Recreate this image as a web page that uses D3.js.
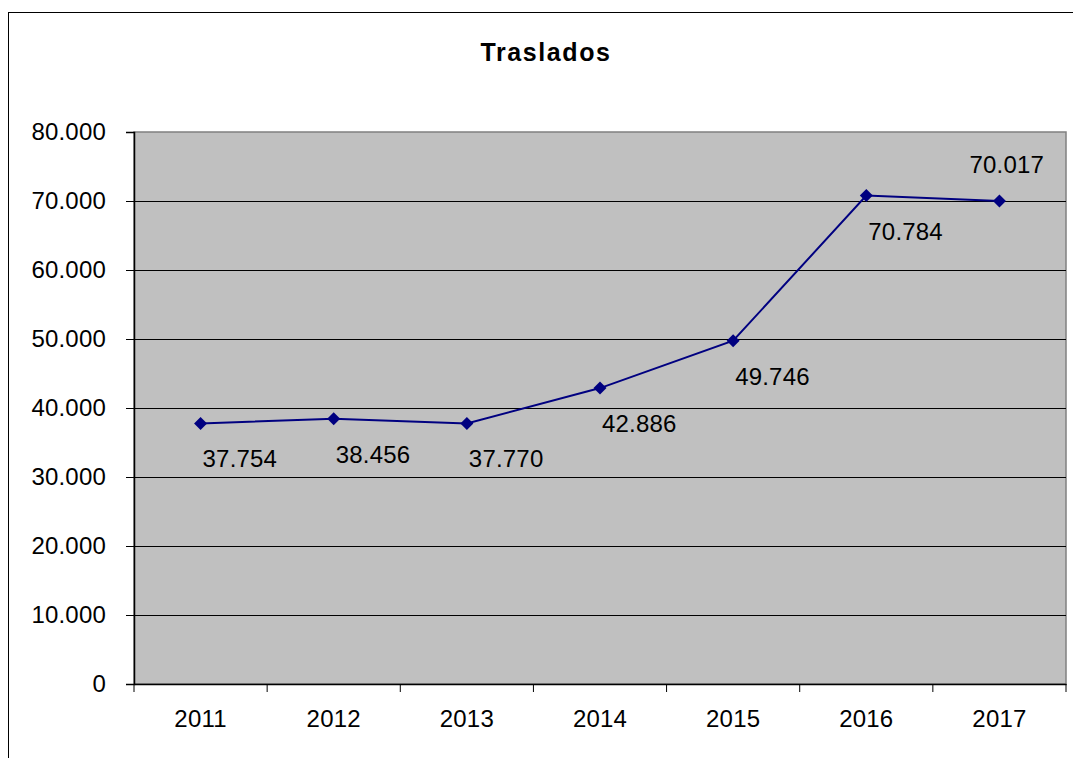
<!DOCTYPE html>
<html>
<head>
<meta charset="utf-8">
<script src="https://cdn.jsdelivr.net/npm/d3@7"></script>
<style>
  body { margin: 0; background: #fff; }
  svg { display: block; font-family: "Liberation Sans", Arial, sans-serif; }
</style>
</head>
<body>
<svg id="chart" width="1073" height="758"></svg>
<script>
// data
const years = ["2011", "2012", "2013", "2014", "2015", "2016", "2017"];
const traslados = [37754, 38456, 37770, 42886, 49746, 70784, 70017];
const yTicks = [0, 10000, 20000, 30000, 40000, 50000, 60000, 70000, 80000];

const svg = d3.select("#chart");
const plotL = 134, plotR = 1066, plotT = 132, plotB = 684;

const loc = d3.formatLocale({decimal: ",", thousands: ".", grouping: [3], currency: ["", ""]});
const fmt = loc.format(",d");

const x = d3.scaleBand().domain(years).range([plotL, plotR]).padding(0);
const y = d3.scaleLinear().domain([0, 80000]).range([plotB, plotT]);

// outer chart border (runs off the right/bottom edge)
svg.append("rect")
    .attr("x", 8.5).attr("y", 12.5)
    .attr("width", 1100).attr("height", 800)
    .attr("fill", "#fff").attr("stroke", "#000").attr("stroke-width", 1);

// title
svg.append("text")
    .attr("x", 546).attr("y", 61)
    .attr("text-anchor", "middle")
    .attr("font-size", 25).attr("font-weight", "bold")
    .attr("letter-spacing", 1.6)
    .text("Traslados");

// plot area
svg.append("rect")
    .attr("x", plotL).attr("y", plotT)
    .attr("width", plotR - plotL).attr("height", plotB - plotT)
    .attr("fill", "#c0c0c0").attr("stroke", "#808080").attr("stroke-width", 1.5);

// gridlines
svg.append("g")
    .selectAll("line")
    .data(yTicks.filter(d => d > 0 && d < 80000))
    .enter().append("line")
    .attr("x1", plotL).attr("x2", plotR)
    .attr("y1", d => Math.round(y(d)) + 0.5).attr("y2", d => Math.round(y(d)) + 0.5)
    .attr("stroke", "#000").attr("stroke-width", 1);

// y axis
const yAxis = svg.append("g")
    .attr("transform", `translate(${plotL},0)`)
    .call(d3.axisLeft(y).tickValues(yTicks).tickFormat(d => d === 0 ? "0" : fmt(d))
        .tickSize(8).tickPadding(20));
yAxis.selectAll("text").attr("font-size", 24).attr("letter-spacing", 0.2)
    .attr("fill", "#000").attr("font-family", "Liberation Sans, Arial, sans-serif");
yAxis.select(".domain").attr("stroke", "#000").attr("stroke-width", 1.5);

// x axis
const xAxis = svg.append("g")
    .attr("transform", `translate(0,${plotB})`)
    .call(d3.axisBottom(x).tickSize(0).tickPadding(26));
xAxis.selectAll("text").attr("font-size", 24).attr("letter-spacing", 0.2)
    .attr("fill", "#000").attr("font-family", "Liberation Sans, Arial, sans-serif");
xAxis.select(".domain").attr("stroke", "#000").attr("stroke-width", 1.5);
xAxis.selectAll(".bound")
    .data(years.map(d => x(d)).concat([plotR]))
    .enter().append("line")
    .attr("class", "bound")
    .attr("x1", d => d).attr("x2", d => d)
    .attr("y1", 0).attr("y2", 8)
    .attr("stroke", "#000");

// line + markers
const cx = d => x(d) + x.bandwidth() / 2;
const pts = years.map((d, i) => ({year: d, value: traslados[i]}));

svg.append("path")
    .datum(pts)
    .attr("fill", "none")
    .attr("stroke", "#000080")
    .attr("stroke-width", 2)
    .attr("d", d3.line().x(d => cx(d.year)).y(d => y(d.value)));

svg.append("g")
    .selectAll("path")
    .data(pts)
    .enter().append("path")
    .attr("transform", d => `translate(${cx(d.year)},${y(d.value)})`)
    .attr("d", "M0,-6.5L6.5,0L0,6.5L-6.5,0Z")
    .attr("fill", "#000080");

// data labels: below the point, last one above
svg.append("g")
    .selectAll("text")
    .data(pts)
    .enter().append("text")
    .attr("x", (d, i) => i === pts.length - 1 ? cx(d.year) - 30 : cx(d.year) + 2)
    .attr("y", (d, i) => i === pts.length - 1 ? y(d.value) - 28 : y(d.value) + 44)
    .attr("font-size", 24).attr("letter-spacing", 0.2)
    .attr("fill", "#000")
    .text(d => fmt(d.value));
</script>
</body>
</html>
